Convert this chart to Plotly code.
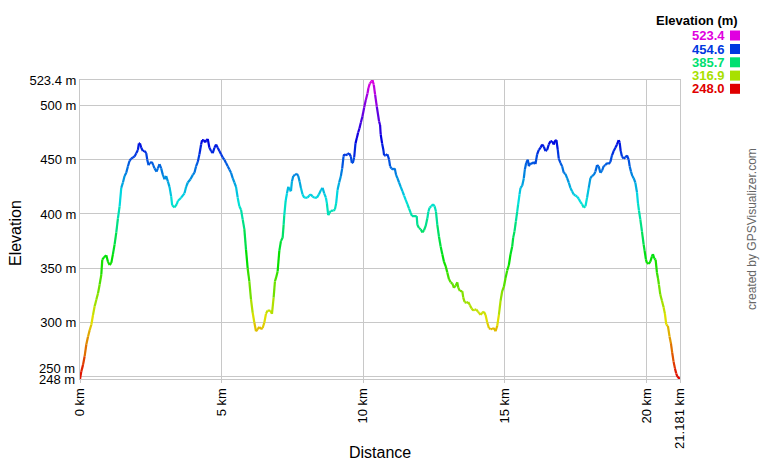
import colorsys
import plotly.graph_objects as go

distance_km = [
    0.000, 0.047, 0.106, 0.165, 0.224, 0.282, 0.341, 0.400, 0.459, 0.517, 0.576, 0.635, 0.693, 0.752,
    0.787, 0.846, 0.928, 0.987, 1.046, 1.105, 1.163, 1.222, 1.281, 1.339, 1.398, 1.457, 1.516, 1.574,
    1.633, 1.692, 1.750, 1.809, 1.868, 1.927, 1.985, 2.044, 2.079, 2.115, 2.162, 2.220, 2.279, 2.338,
    2.373, 2.420, 2.467, 2.537, 2.584, 2.631, 2.702, 2.749, 2.807, 2.866, 2.925, 2.984, 3.042, 3.101,
    3.160, 3.219, 3.254, 3.336, 3.418,
    3.453, 3.570, 3.688, 3.747, 3.805, 3.899, 3.982, 4.040, 4.099, 4.158, 4.216, 4.275, 4.310, 4.369,
    4.416, 4.463, 4.510, 4.569, 4.628, 4.686, 4.745, 4.804, 4.862, 4.921, 4.980, 5.039, 5.097, 5.156,
    5.215, 5.273, 5.332, 5.391, 5.450, 5.508, 5.567, 5.626, 5.685, 5.743, 5.802, 5.861, 5.919, 5.978,
    6.037, 6.096, 6.154, 6.213, 6.272, 6.330, 6.389, 6.448, 6.507, 6.565, 6.624, 6.718, 6.777, 6.835,
    6.882, 6.929, 6.977,
    7.036, 7.094, 7.153, 7.188, 7.212, 7.259, 7.306, 7.353, 7.400, 7.447, 7.482, 7.529, 7.588, 7.658,
    7.705, 7.752, 7.799, 7.858, 7.917, 7.975, 8.034, 8.093, 8.152, 8.210, 8.269, 8.363, 8.433, 8.504,
    8.563, 8.621, 8.680, 8.715, 8.762, 8.809, 8.856, 8.950, 8.997, 9.044, 9.091, 9.150, 9.209, 9.256,
    9.303, 9.326, 9.385, 9.444, 9.502, 9.561, 9.596, 9.631, 9.678, 9.725, 9.772, 9.819, 9.866, 9.913,
    9.972, 10.031, 10.089, 10.148, 10.183, 10.230, 10.289, 10.324, 10.371, 10.418, 10.477,
    10.559, 10.594, 10.617, 10.664, 10.711, 10.735, 10.794, 10.852, 10.911, 10.946, 10.993, 11.052,
    11.111, 11.158, 11.205, 11.263, 11.322, 11.381, 11.440, 11.498, 11.557, 11.616, 11.675, 11.721,
    11.886, 11.909, 11.968, 12.027, 12.086, 12.144, 12.203, 12.262, 12.297, 12.344, 12.403, 12.461,
    12.520, 12.567, 12.614, 12.673, 12.732, 12.790, 12.849, 12.908, 12.966, 13.025, 13.084, 13.143,
    13.201, 13.260, 13.319, 13.354, 13.413, 13.495, 13.530, 13.577, 13.648, 13.706, 13.765, 13.824,
    13.882, 13.929, 13.988, 14.047,
    14.083, 14.141, 14.200, 14.259, 14.318, 14.376, 14.435, 14.494, 14.553, 14.611, 14.670, 14.729,
    14.787, 14.846, 14.905, 14.964, 15.022, 15.081, 15.140, 15.199, 15.257, 15.292, 15.339, 15.386,
    15.433, 15.469, 15.516, 15.551, 15.610, 15.668, 15.704, 15.751, 15.809, 15.844, 15.903, 15.962,
    16.021, 16.079, 16.138, 16.197, 16.256, 16.314, 16.373, 16.432, 16.490, 16.549, 16.608, 16.667,
    16.725, 16.784, 16.819, 16.866, 16.901, 16.960, 17.019, 17.078, 17.136, 17.195, 17.254, 17.313,
    17.371, 17.430, 17.489, 17.548,
    17.607, 17.665, 17.724, 17.783, 17.842, 17.900, 17.959, 18.018, 18.077, 18.135, 18.194, 18.253,
    18.311, 18.370, 18.429, 18.488, 18.546, 18.605, 18.664, 18.723, 18.781, 18.840, 18.899, 18.957,
    19.016, 19.051, 19.087, 19.134, 19.192, 19.251, 19.310, 19.369, 19.404, 19.451, 19.498, 19.545,
    19.603, 19.662, 19.697, 19.733, 19.780, 19.838, 19.897, 19.932, 19.979, 20.014, 20.073, 20.132,
    20.191, 20.226, 20.273, 20.320, 20.367, 20.402, 20.437, 20.484, 20.543, 20.602, 20.649, 20.696,
    20.754, 20.813, 20.860, 20.907, 20.954, 21.001, 21.048, 21.095, 21.181,
]

elevation_m = [
    248, 255, 261, 269, 280, 287, 293, 298, 307, 315, 321, 327, 335, 344,
    358, 360, 362, 356, 353, 355, 363, 372, 383, 396, 407, 424, 429, 435,
    438, 444, 449, 451, 452, 453, 456, 459, 465, 465, 461, 458, 458, 456,
    450, 445, 447, 448, 445, 442, 439, 442, 446, 442, 436, 432, 435, 430,
    425, 416, 408, 406, 409,
    412, 415, 419, 425, 429, 432, 436, 438, 444, 448, 455, 464, 468, 468,
    466, 468, 469, 461, 458, 456, 461, 464, 461, 458, 455, 452, 450, 447,
    444, 441, 438, 433, 429, 425, 415, 407, 404, 395, 386, 367, 350, 338,
    321, 309, 300, 292, 294, 296, 294, 295, 300, 308, 311, 311, 308, 323,
    338, 342, 347,
    366, 375, 378, 390, 399, 412, 419, 425, 422, 421, 430, 435, 436, 437,
    435, 430, 424, 418, 415, 415, 415, 417, 418, 416, 415, 415, 418, 422,
    424, 419, 415, 410, 399, 401, 403, 403, 404, 410, 422, 429, 435, 442,
    453, 455, 454, 455, 456, 453, 447, 447, 452, 465, 470, 475, 479, 484,
    490, 498, 505, 511, 516, 520, 522, 523.4, 519, 510, 499,
    485, 482, 473, 465, 459, 454, 454, 455, 450, 444, 442, 441,
    442, 436, 433, 429, 425, 421, 417, 413, 409, 405, 401, 398,
    398, 390, 387, 386, 383, 385, 389, 396, 402, 406, 407, 409,
    407, 402, 390, 379, 370, 363, 356, 352, 346, 340, 337, 336,
    332, 334, 337, 332, 329, 329, 323, 319, 318, 319, 316, 313,
    311, 312, 312, 310,
    309, 307, 309, 310, 307, 300, 295, 294, 294, 295, 292, 297,
    307, 320, 329, 333, 341, 348, 353, 363, 370, 378, 384, 393,
    402, 409, 418, 424, 426, 433, 441, 447, 450, 444, 447, 446,
    448, 446, 455, 459, 461, 464, 462, 458, 459, 464, 467, 467,
    464, 468, 468, 459, 451, 447, 444, 438, 437, 433, 429, 424,
    421, 418, 417, 416,
    414, 411, 409, 406, 407, 415, 424, 433, 435, 436, 439, 445,
    444, 438, 440, 444, 445, 447, 446, 448, 454, 458, 461, 464,
    468, 466, 458, 453, 451, 452, 454, 450, 444, 439, 435, 433,
    429, 420, 410, 403, 395, 384, 372, 366, 358, 355, 354, 356,
    361, 363, 359, 358, 346, 341, 335, 326, 320, 314, 308, 298,
    297, 287, 281, 272, 264, 258, 253, 250, 248,
]

y_tick_values = [248, 250, 300, 350, 400, 450, 500, 523.4]
y_tick_labels = ["248 m", "250 m", "300 m", "350 m", "400 m", "450 m", "500 m", "523.4 m"]
x_tick_values = [0, 5, 10, 15, 20, 21.181]
x_tick_labels = ["0 km", "5 km", "10 km", "15 km", "20 km", "21.181 km"]

legend_values = [523.4, 454.6, 385.7, 316.9, 248.0]

E_MIN, E_MAX = 248.0, 523.4
FONT = "Arial, Liberation Sans, sans-serif"


def elev_color(e):
    t = (e - E_MIN) / (E_MAX - E_MIN)
    t = min(max(t, 0.0), 1.0)
    r, g, b = colorsys.hsv_to_rgb(t * 300.0 / 360.0, 1.0, 0.88)
    return "rgb(%d,%d,%d)" % (round(r * 255), round(g * 255), round(b * 255))


# ---- group segments into colour bins ----
N_BINS = 120
bins = {}
for i in range(len(distance_km) - 1):
    em = (elevation_m[i] + elevation_m[i + 1]) / 2.0
    k = int(round((em - E_MIN) / (E_MAX - E_MIN) * N_BINS))
    k = min(max(k, 0), N_BINS)
    xs, ys = bins.setdefault(k, ([], []))
    xs += [distance_km[i], distance_km[i + 1], None]
    ys += [elevation_m[i], elevation_m[i + 1], None]

fig = go.Figure()
for k in sorted(bins):
    xs, ys = bins[k]
    e = E_MIN + k / N_BINS * (E_MAX - E_MIN)
    fig.add_trace(go.Scatter(
        x=xs, y=ys, mode="lines",
        line=dict(color=elev_color(e), width=2.2),
        showlegend=False, hoverinfo="skip",
    ))

W, H = 760, 460
L, R, T, B = 80, 80, 80, 81
PW, PH = W - L - R, H - T - B


def px(xp):
    return (xp - L) / PW


def py(yp):
    return (H - B - yp) / PH


grid = "#c8c8c8"
# 248 and 250 labels are drawn separately (nudged apart as in the reference)
axis_tick_text = ["" if v in (248, 250) else t for v, t in zip(y_tick_values, y_tick_labels)]

fig.update_layout(
    width=W, height=H,
    margin=dict(l=L, r=R, t=T, b=B, pad=0),
    paper_bgcolor="white", plot_bgcolor="white",
    font=dict(family=FONT, size=13, color="black"),
    xaxis=dict(
        range=[0, 21.181], tickvals=x_tick_values, ticktext=x_tick_labels,
        tickangle=-90, showgrid=True, gridcolor=grid, gridwidth=1,
        zeroline=False, showline=True, linecolor=grid, mirror=True,
        ticks="outside", ticklen=3, tickcolor=grid,
        tickfont=dict(family=FONT, size=13, color="black"),
    ),
    yaxis=dict(
        range=[E_MIN, E_MAX], tickvals=y_tick_values, ticktext=axis_tick_text,
        showgrid=True, gridcolor=grid, gridwidth=1,
        zeroline=False, showline=True, linecolor=grid, mirror=True,
        ticks="", tickfont=dict(family=FONT, size=13, color="black"),
    ),
)

for v, t, shift in [(250, "250 m", 8), (248, "248 m", 0)]:
    fig.add_annotation(text=t, xref="paper", yref="y", x=0, y=v, xshift=-3, yshift=shift,
                       showarrow=False, xanchor="right", yanchor="middle",
                       font=dict(family=FONT, size=13, color="black"))

# axis titles
fig.add_annotation(text="Distance", xref="paper", yref="paper",
                   x=px(380), y=py(452), showarrow=False,
                   font=dict(family=FONT, size=16, color="black"),
                   xanchor="center", yanchor="middle")
fig.add_annotation(text="Elevation", xref="paper", yref="paper",
                   x=px(15), y=py(233), showarrow=False, textangle=-90,
                   font=dict(family=FONT, size=16, color="black"),
                   xanchor="center", yanchor="middle")

# credit
fig.add_annotation(text="created by GPSVisualizer.com", xref="paper", yref="paper",
                   x=px(752), y=py(229), showarrow=False, textangle=-90,
                   font=dict(family=FONT, size=12, color="#666666"),
                   xanchor="center", yanchor="middle")

# colour key
fig.add_annotation(text="<b>Elevation (m)</b>", xref="paper", yref="paper",
                   x=px(740), y=py(21), showarrow=False,
                   font=dict(family=FONT, size=13, color="black"),
                   xanchor="right", yanchor="middle")
row_y = [35.5, 49, 62.3, 75.6, 88.8]
for val, yy in zip(legend_values, row_y):
    c = elev_color(val)
    fig.add_annotation(text="<b>%.1f</b>" % val, xref="paper", yref="paper",
                       x=px(727), y=py(yy), showarrow=False,
                       font=dict(family=FONT, size=13, color=c),
                       xanchor="right", yanchor="middle")
    fig.add_shape(type="rect", xref="paper", yref="paper",
                  x0=px(730), x1=px(740), y0=py(yy + 5), y1=py(yy - 5),
                  fillcolor=c, line=dict(width=0))

# the figure is sized to the whole window, so drop the page's default body margin
fig.write_html(
    "out.html",
    config={"displayModeBar": False, "staticPlot": True},
    post_script="document.body.style.margin='0';document.body.style.overflow='hidden';",
)
